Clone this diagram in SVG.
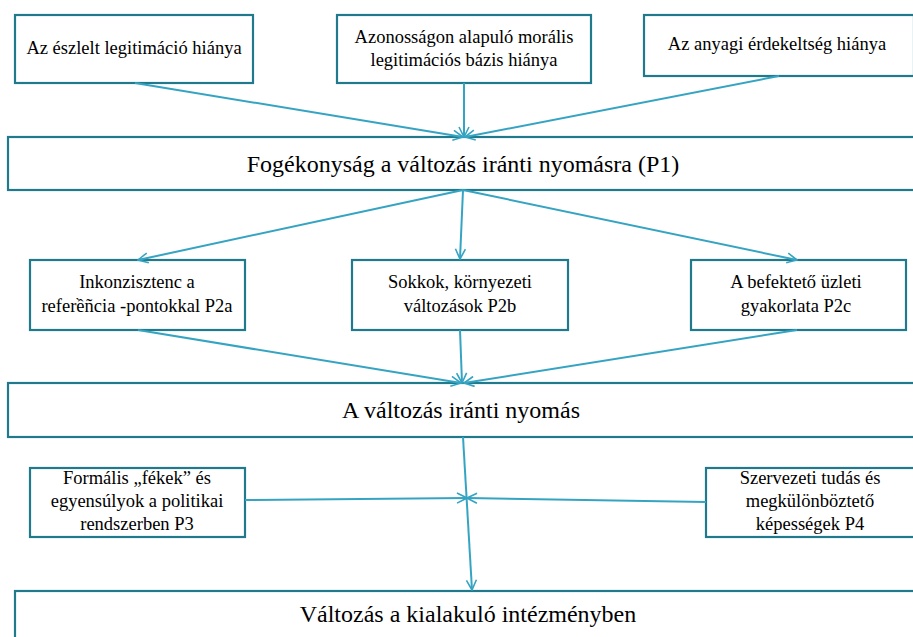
<svg xmlns="http://www.w3.org/2000/svg" width="913" height="637" viewBox="0 0 913 637">
<defs>
<marker id="arr" viewBox="0 0 12 12" refX="11" refY="6" markerWidth="12" markerHeight="12" markerUnits="userSpaceOnUse" orient="auto">
<path d="M1,1 L11,6 L1,11" fill="none" stroke="#35A4C2" stroke-width="1.6"/>
</marker>
<style>
.box{fill:#fff;stroke:#217A8C;stroke-width:2.2}
.t{fill:#000;text-anchor:middle;font-family:"Liberation Serif","DejaVu Serif",serif}
.s{font-size:18.5px}
.l{font-size:24px}
.c{fill:none;stroke:#35A4C2;stroke-width:2;marker-end:url(#arr)}
</style>
</defs>
<rect width="913" height="637" fill="#fff"/>
<g id="n1"><rect class="box" x="15" y="15" width="238" height="68"/><text class="t s" x="134" y="54">Az észlelt legitimáció hiánya</text></g>
<g id="n2"><rect class="box" x="337" y="15" width="254" height="68"/><text class="t s" x="464" y="43">Azonosságon alapuló morális</text><text class="t s" x="464" y="66">legitimációs bázis hiánya</text></g>
<g id="n3"><rect class="box" x="644" y="15" width="270" height="61"/><text class="t s" x="777" y="50">Az anyagi érdekeltség hiánya</text></g>
<g id="p1"><rect class="box" x="8" y="137" width="910" height="53"/><text class="t l" x="463" y="172">Fogékonyság a változás iránti nyomásra (P1)</text></g>
<g id="p2a"><rect class="box" x="30" y="260" width="215" height="70"/><text class="t s" x="137" y="288">Inkonzisztenc  a</text><text class="t s" x="137" y="312">referềñcia -pontokkal P2a</text></g>
<g id="p2b"><rect class="box" x="352" y="260" width="216" height="70"/><text class="t s" x="460" y="288">Sokkok, környezeti</text><text class="t s" x="460" y="312">változások P2b</text></g>
<g id="p2c"><rect class="box" x="691" y="260" width="215" height="70"/><text class="t s" x="796" y="288">A befektető üzleti</text><text class="t s" x="796" y="312">gyakorlata P2c</text></g>
<g id="pr"><rect class="box" x="8" y="383" width="910" height="54"/><text class="t l" x="461" y="418">A változás iránti nyomás</text></g>
<g id="p3"><rect class="box" x="30" y="468" width="215" height="69"/><text class="t s" x="137" y="484">Formális „fékek” és</text><text class="t s" x="137" y="507">egyensúlyok a politikai</text><text class="t s" x="137" y="530">rendszerben P3</text></g>
<g id="p4"><rect class="box" x="706" y="468" width="210" height="69"/><text class="t s" x="810" y="484">Szervezeti tudás és</text><text class="t s" x="810" y="507">megkülönböztető</text><text class="t s" x="810" y="530">képességek P4</text></g>
<g id="out"><rect class="box" x="15" y="591" width="905" height="60"/><text class="t l" x="468" y="622">Változás a kialakuló intézményben</text></g>
<g id="connectors">
<line class="c" x1="135" y1="83" x2="463" y2="137"/>
<line class="c" x1="464" y1="83" x2="464" y2="137"/>
<line class="c" x1="779" y1="76" x2="465" y2="137"/>
<line class="c" x1="463" y1="190" x2="138" y2="260"/>
<line class="c" x1="463" y1="190" x2="460" y2="259"/>
<line class="c" x1="463" y1="190" x2="797" y2="260"/>
<line class="c" x1="138" y1="330" x2="461" y2="383"/>
<line class="c" x1="460" y1="330" x2="462" y2="383"/>
<line class="c" x1="797" y1="330" x2="464" y2="383"/>
<line class="c" x1="463" y1="437" x2="472" y2="590"/>
<line class="c" x1="245" y1="500" x2="467" y2="498"/>
<line class="c" x1="706" y1="502" x2="467" y2="498"/>
</g>
</svg>
